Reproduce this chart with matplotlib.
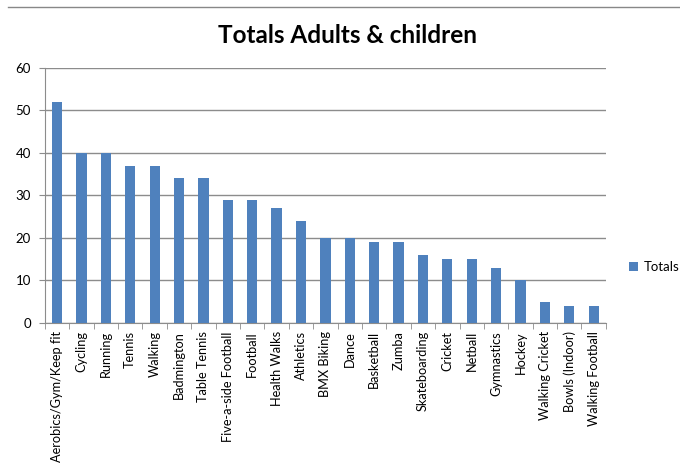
import numpy as np
import matplotlib.pyplot as plt
from matplotlib.lines import Line2D

plt.rcParams['font.family'] = ['Lato', 'DejaVu Sans']

## data
sports = ['Aerobics/Gym/Keep fit', 'Cycling', 'Running', 'Tennis', 'Walking',
          'Badmington', 'Table Tennis', 'Five-a-side Football', 'Football',
          'Health Walks', 'Athletics', 'BMX Biking', 'Dance', 'Basketball',
          'Zumba', 'Skateboarding', 'Cricket', 'Netball', 'Gymnastics',
          'Hockey', 'Walking Cricket', 'Bowls (Indoor)', 'Walking Football']
totals = [52, 40, 40, 37, 37, 34, 34, 29, 29, 27, 24, 20, 20, 19, 19,
          16, 15, 15, 13, 10, 5, 4, 4]
yticks = [0, 10, 20, 30, 40, 50, 60]

fig = plt.figure(figsize=(6.8, 4.72), dpi=100)
ax = fig.add_axes([0.066, 0.316, 0.825, 0.540])

x = np.arange(len(sports))
ax.bar(x, totals, width=0.42, color='#4f81bd', label='Totals', zorder=3)

ax.set_xlim(-0.5, len(sports) - 0.5)
ax.set_ylim(0, 60)
ax.set_yticks(yticks)
ax.yaxis.grid(True, color='#8c8c8c', linewidth=1.0, zorder=0)

# category labels, tick marks between categories
ax.set_xticks(x)
ax.set_xticklabels(sports, rotation=90, fontsize=9.2)
ax.set_xticks(np.arange(-0.5, len(sports)), minor=True)
ax.tick_params(axis='x', which='major', length=0, pad=6)
ax.tick_params(axis='x', which='minor', length=4, color='#8c8c8c', direction='out')
ax.tick_params(axis='y', length=4, color='#8c8c8c', labelsize=9.5, pad=6)

for s in ['top', 'right']:
    ax.spines[s].set_visible(False)
ax.spines['left'].set_color('#8c8c8c')
ax.spines['bottom'].set_color('#8c8c8c')

fig.text(0.511, 0.925, 'Totals Adults & children', ha='center', va='center',
         fontsize=17.5, fontweight='bold')

ax.legend(loc='center left', bbox_to_anchor=(1.02, 0.22), frameon=False,
          fontsize=9.5, handlelength=0.7, handleheight=0.7, handletextpad=0.4)

# frame line at top of picture
fig.add_artist(Line2D([0.012, 1.0], [0.985, 0.985], color='#888888', linewidth=1.0))

fig.savefig('out.png', dpi=100)
